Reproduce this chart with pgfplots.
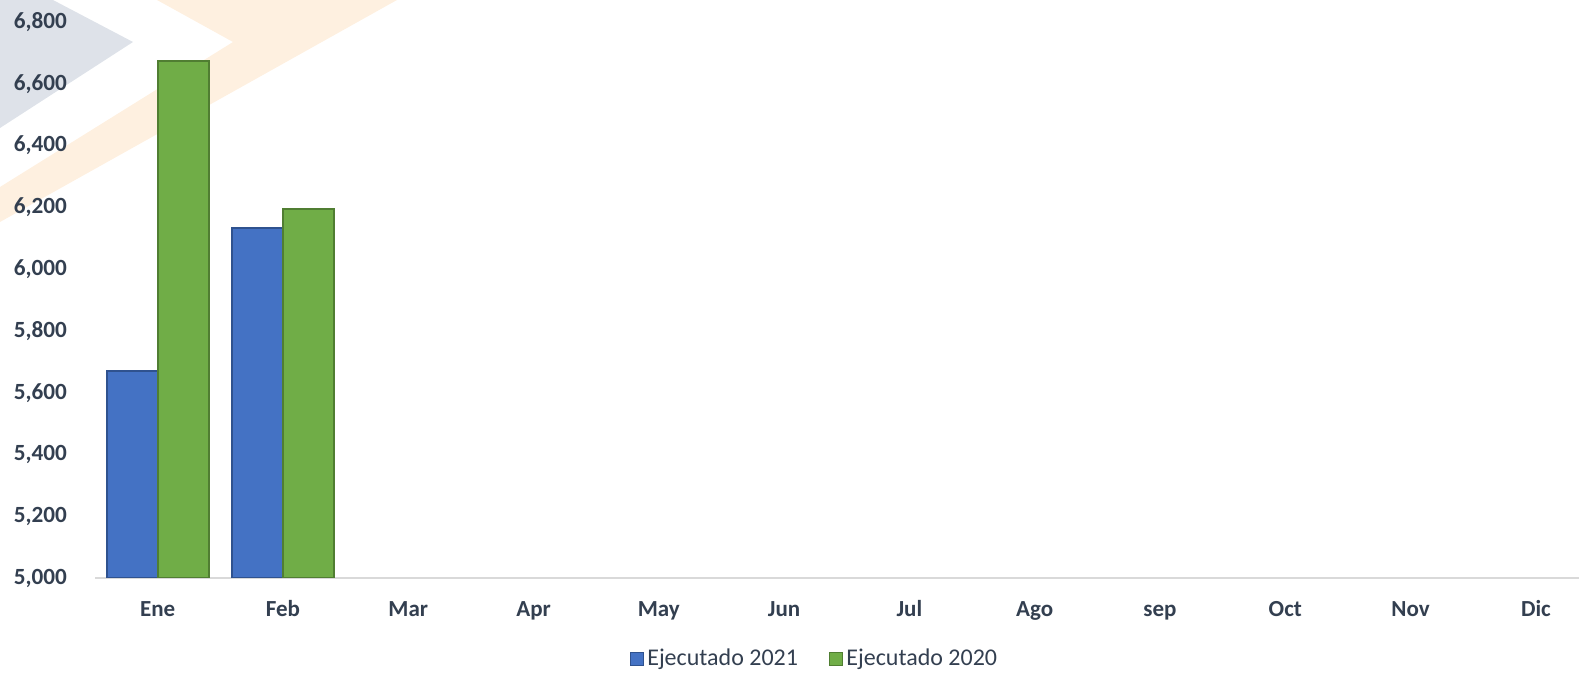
\documentclass[border=0pt]{standalone}
\usepackage{fontspec}
\setmainfont{Carlito}
\usepackage{pgfplots}
\pgfplotsset{compat=1.18}
\definecolor{txt}{HTML}{333F50}
\definecolor{azul}{HTML}{4472C4}
\definecolor{azulb}{HTML}{2F528F}
\definecolor{verde}{HTML}{70AD47}
\definecolor{verdeb}{HTML}{507E32}
\definecolor{gris}{HTML}{DEE2E9}
\definecolor{durazno}{HTML}{FEF0E0}
\definecolor{ejex}{HTML}{D9D9D9}
\begin{document}
\begin{tikzpicture}
\useasboundingbox (0,0) rectangle (789.5pt,337pt);
% watermark shapes in the background
\fill[gris] (0,337pt) -- (26.5pt,337pt) -- (66.5pt,316pt) -- (0,273pt) -- cycle;
\fill[durazno] (78.5pt,337pt) -- (198.5pt,337pt) -- (0,226pt) -- (0,243.5pt) -- (116.5pt,316pt) -- cycle;
\begin{axis}[
    at={(47.5pt,48pt)}, anchor=south west,
    scale only axis,
    width=742pt, height=278pt,
    ybar=0pt, bar width=25.5pt,
    xmin=-0.5, xmax=11.344,
    ymin=5000, ymax=6800,
    ytick={5000,5200,...,6800},
    yticklabels={{5,000},{5,200},{5,400},{5,600},{5,800},{6,000},{6,200},{6,400},{6,600},{6,800}},
    xtick={0,...,11},
    xticklabels={Ene,Feb,Mar,Apr,May,Jun,Jul,Ago,sep,Oct,Nov,Dic},
    major tick length=0pt,
    axis x line*=bottom,
    axis y line*=left,
    y axis line style={draw=none},
    x axis line style={draw=ejex, line width=0.8pt, -},
    yticklabel style={font=\fontsize{11.6}{12}\selectfont\bfseries, text=txt, anchor=east, xshift=-10.5pt},
    xticklabel style={font=\fontsize{11.5}{12}\selectfont\bfseries, text=txt, anchor=base, yshift=-19.5pt},
    legend style={at={(0.4852,-0.1457)}, anchor=center, draw=none, fill=none,
        legend columns=-1, font=\fontsize{12}{13}\selectfont, text=txt,
        /tikz/every even column/.append style={column sep=14pt},
        nodes={inner sep=1.5pt}},
    legend image code/.code={\draw[#1, line width=0.6pt] (0pt,-3.3pt) rectangle (6.6pt,3.3pt);},
]
\addplot[fill=azul, draw=azulb, line width=1pt] coordinates {(0,5670) (1,6133)};
\addplot[fill=verde, draw=verdeb, line width=1pt] coordinates {(0,6675) (1,6193)};
\legend{Ejecutado 2021, Ejecutado 2020}
\end{axis}
\end{tikzpicture}
\end{document}
